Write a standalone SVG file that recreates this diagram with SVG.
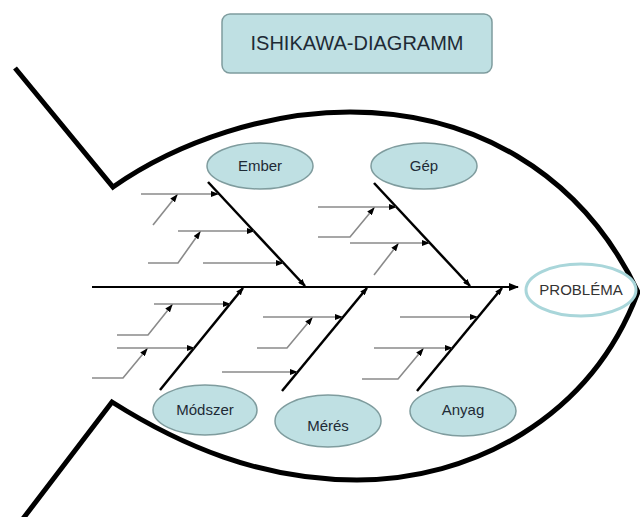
<svg xmlns="http://www.w3.org/2000/svg" width="640" height="517" viewBox="0 0 640 517">
<defs>
<marker id="ah" markerUnits="userSpaceOnUse" markerWidth="8" markerHeight="6" refX="7" refY="3" orient="auto">
<path d="M0,0 L8,3 L0,6 Z" fill="#000"/>
</marker>
<marker id="ahb" markerUnits="userSpaceOnUse" markerWidth="10" markerHeight="8" refX="9" refY="4" orient="auto">
<path d="M0,0 L10,4 L0,8 Z" fill="#000"/>
</marker>
</defs>
<style>
.fish{fill:none;stroke:#000;stroke-width:5;stroke-linejoin:miter}
.spine{stroke:#000;stroke-width:2;fill:none}
.bone{stroke:#000;stroke-width:2.5;fill:none}
.sub{stroke:#8a8a8a;stroke-width:1.6;fill:none}
.cause{fill:#bfe0e3;stroke:#7f9c9e;stroke-width:1.5}
.lbl{font-family:"Liberation Sans",Arial,sans-serif;font-size:15px;fill:#1e2b36;text-anchor:middle}
</style>
<rect width="640" height="517" fill="#fff"/>

<g id="title">
<rect x="222" y="14" width="270" height="59" rx="8" fill="#bfe0e3" stroke="#7f9c9e" stroke-width="1.5"/>
<text x="357" y="50" class="lbl" style="font-size:20px">ISHIKAWA-DIAGRAMM</text>
</g>

<g id="fish">
<path class="fish" d="M15,68 L113,187 C180,140 270,112 350,112 C470,112 580,170 638,292 C590,420 470,480 357,480 C260,480 180,445 112,402 L22,520"/>
</g>

<g id="connectors">
<line class="spine" x1="92" y1="287" x2="518" y2="287" marker-end="url(#ahb)"/>
<!-- upper bones -->
<line class="bone" x1="208" y1="182" x2="305" y2="286" marker-end="url(#ah)"/>
<line class="bone" x1="374" y1="183" x2="470" y2="286" marker-end="url(#ah)"/>
<!-- lower bones -->
<line class="bone" x1="160" y1="390" x2="243" y2="288" marker-end="url(#ah)"/>
<line class="bone" x1="282" y1="391" x2="367" y2="288" marker-end="url(#ah)"/>
<line class="bone" x1="417" y1="391" x2="502" y2="288" marker-end="url(#ah)"/>

<!-- Ember subs -->
<line class="sub" x1="141" y1="194" x2="218" y2="194" marker-end="url(#ah)"/>
<line class="sub" x1="153" y1="225" x2="177" y2="195" marker-end="url(#ah)"/>
<line class="sub" x1="178" y1="231" x2="254" y2="231" marker-end="url(#ah)"/>
<polyline class="sub" points="148,263 178,263 200,232" marker-end="url(#ah)"/>
<line class="sub" x1="203" y1="263" x2="283" y2="263" marker-end="url(#ah)"/>

<!-- Gep subs -->
<line class="sub" x1="318" y1="207" x2="396" y2="207" marker-end="url(#ah)"/>
<polyline class="sub" points="318,237 350,237 374,208" marker-end="url(#ah)"/>
<line class="sub" x1="350" y1="243" x2="429" y2="243" marker-end="url(#ah)"/>
<line class="sub" x1="374" y1="275" x2="398" y2="244" marker-end="url(#ah)"/>

<!-- Modszer subs -->
<line class="sub" x1="154" y1="304" x2="230" y2="304" marker-end="url(#ah)"/>
<polyline class="sub" points="117,335 148,335 172,305" marker-end="url(#ah)"/>
<line class="sub" x1="117" y1="348" x2="194" y2="348" marker-end="url(#ah)"/>
<polyline class="sub" points="92,378 123,378 147,349" marker-end="url(#ah)"/>

<!-- Meres subs -->
<line class="sub" x1="263" y1="317" x2="342" y2="317" marker-end="url(#ah)"/>
<polyline class="sub" points="257,348 287,348 312,318" marker-end="url(#ah)"/>
<line class="sub" x1="222" y1="372" x2="297" y2="372" marker-end="url(#ah)"/>

<!-- Anyag subs -->
<line class="sub" x1="400" y1="317" x2="477" y2="317" marker-end="url(#ah)"/>
<line class="sub" x1="374" y1="348" x2="452" y2="348" marker-end="url(#ah)"/>
<polyline class="sub" points="362,379 398,379 423,349" marker-end="url(#ah)"/>
</g>

<g id="ember">
<ellipse class="cause" cx="260" cy="166" rx="53" ry="23"/>
<text class="lbl" x="260" y="171">Ember</text>
</g>
<g id="gep">
<ellipse class="cause" cx="424" cy="166" rx="53" ry="23"/>
<text class="lbl" x="424" y="171">Gép</text>
</g>
<g id="modszer">
<ellipse class="cause" cx="205" cy="410" rx="52" ry="25"/>
<text class="lbl" x="205" y="415">Módszer</text>
</g>
<g id="meres">
<ellipse class="cause" cx="328" cy="421" rx="53" ry="26"/>
<text class="lbl" x="328" y="431">Mérés</text>
</g>
<g id="anyag">
<ellipse class="cause" cx="463" cy="411" rx="53" ry="25"/>
<text class="lbl" x="463" y="415">Anyag</text>
</g>
<g id="problema">
<ellipse cx="581" cy="290" rx="55" ry="26" fill="#fff" stroke="#a9d6da" stroke-width="3"/>
<text class="lbl" x="581" y="295" style="font-size:15px;fill:#333">PROBLÉMA</text>
</g>
</svg>
